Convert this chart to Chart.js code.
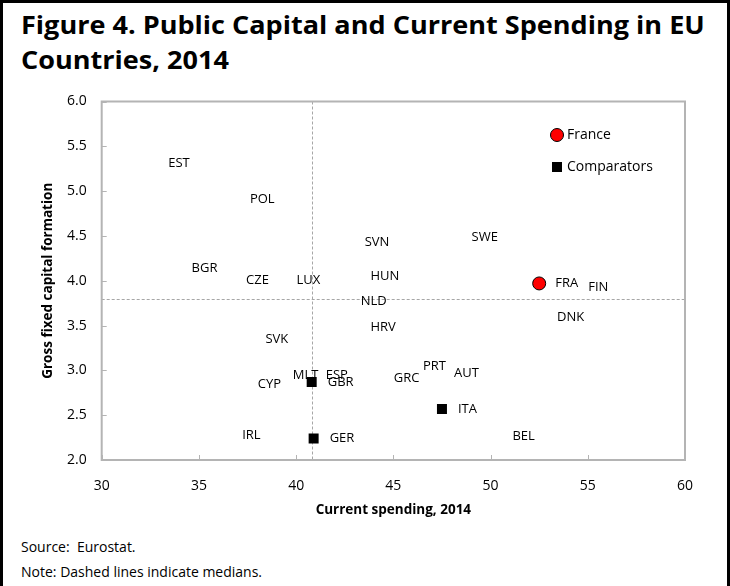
<!DOCTYPE html>
<html>
<head>
<meta charset="utf-8">
<script src="https://cdn.jsdelivr.net/npm/chart.js@4.4.1/dist/chart.umd.min.js"></script>
<style>
	body { margin: 0; background: #fff; font-family: 'Open Sans', sans-serif; }
	#frame { position: absolute; left: 0; top: 0; width: 724px; height: 583px; border: 3px solid #000; border-bottom: none; }
	.title { position: absolute; left: 21px; font-weight: 700; font-size: 25px; line-height: 34px; white-space: nowrap; transform-origin: 0 0; color: #000; }
	#notes { position: absolute; left: 21px; top: 534px; font-size: 14px; line-height: 25px; color: #000; }
	#box { position: absolute; left: 3px; top: 88px; width: 722px; height: 442px; }
</style>
</head>
<body>
<div id="frame"></div>
<div class="title" id="t1" style="top:7px">Figure 4. Public Capital and Current Spending in EU</div>
<div class="title" id="t2" style="top:42px">Countries, 2014</div>
<div id="box"><canvas id="chart"></canvas></div>
<div id="notes">Source:&nbsp; Eurostat.<br>Note: Dashed lines indicate medians.</div>
<script>
// data (x: current spending, y: gross fixed capital formation, % of GDP)
var otherCountries = ['EST', 'POL', 'BGR', 'CZE', 'LUX', 'SVN', 'SWE', 'HUN', 'FIN', 'NLD', 'DNK', 'HRV', 'SVK', 'MLT', 'ESP', 'CYP', 'GRC', 'PRT', 'AUT', 'BEL', 'IRL'];
var otherSpending = [32.6, 36.8, 33.8, 36.6, 39.2, 42.7, 48.2, 43.0, 54.2, 42.5, 52.6, 43.0, 37.6, 39.0, 40.7, 37.2, 44.2, 45.7, 47.3, 50.3, 36.4];
var otherCapital = [5.31, 4.91, 4.14, 4.00, 4.00, 4.43, 4.48, 4.05, 3.93, 3.77, 3.59, 3.48, 3.35, 2.94, 2.95, 2.84, 2.91, 3.05, 2.97, 2.26, 2.28];

var franceCountries = ['FRA'];
var franceSpending = [52.5];
var franceCapital = [3.97];

var comparatorCountries = ['GBR', 'ITA', 'GER'];
var comparatorSpending = [40.8, 47.5, 40.9];
var comparatorCapital = [2.87, 2.57, 2.24];

var medianSpending = 40.8;
var medianCapital = 3.80;

var xTicks = [30, 35, 40, 45, 50, 55, 60];
var yTicks = [2.0, 2.5, 3.0, 3.5, 4.0, 4.5, 5.0, 5.5, 6.0];

// fit title lines to the original width
var t1 = document.getElementById('t1');
var t2 = document.getElementById('t2');
var sx = 684 / t1.offsetWidth;
t1.style.transform = 'scaleX(' + sx + ')';
t2.style.transform = 'scaleX(' + sx + ')';

function toPoints(xs, ys, names) {
	var pts = [];
	for (var i = 0; i < xs.length; i++) {
		pts.push({ x: xs[i], y: ys[i], name: names[i] });
	}
	return pts;
}

var frameAndMedians = {
	id: 'frameAndMedians',
	beforeDatasetsDraw: function(chart) {
		var ctx = chart.ctx;
		var a = chart.chartArea;
		var xs = chart.scales.x;
		var ys = chart.scales.y;
		ctx.save();
		// medians
		ctx.strokeStyle = '#a6a6a6';
		ctx.lineWidth = 1;
		ctx.setLineDash([3, 2]);
		var mx = Math.round(xs.getPixelForValue(medianSpending)) + 0.5;
		var my = Math.round(ys.getPixelForValue(medianCapital)) + 0.5;
		ctx.beginPath();
		ctx.moveTo(mx, a.top);
		ctx.lineTo(mx, a.bottom);
		ctx.moveTo(a.left, my);
		ctx.lineTo(a.right, my);
		ctx.stroke();
		ctx.setLineDash([]);
		// plot area box and inside ticks
		ctx.strokeStyle = '#b4b4b4';
		ctx.lineWidth = 2;
		ctx.strokeRect(a.left, a.top, a.right - a.left, a.bottom - a.top);
		ctx.lineWidth = 1;
		ctx.beginPath();
		xTicks.forEach(function(v) {
			var px = Math.round(xs.getPixelForValue(v)) + 0.5;
			ctx.moveTo(px, a.bottom);
			ctx.lineTo(px, a.bottom - 5);
		});
		yTicks.forEach(function(v) {
			var py = Math.round(ys.getPixelForValue(v)) + 0.5;
			ctx.moveTo(a.left, py);
			ctx.lineTo(a.left + 5, py);
		});
		ctx.stroke();
		ctx.restore();
	}
};

var labelsAndLegend = {
	id: 'labelsAndLegend',
	afterDatasetsDraw: function(chart) {
		var ctx = chart.ctx;
		ctx.save();
		ctx.fillStyle = '#000';
		ctx.font = '13px "Open Sans"';
		ctx.textAlign = 'left';
		ctx.textBaseline = 'middle';
		chart.data.datasets.forEach(function(ds, i) {
			var meta = chart.getDatasetMeta(i);
			meta.data.forEach(function(el, j) {
				ctx.fillText(ds.data[j].name, el.x + 16, el.y);
			});
		});
		// legend inside the plot
		var a = chart.chartArea;
		var lx = a.right - 128;
		ctx.font = '14px "Open Sans"';
		ctx.beginPath();
		ctx.arc(lx, a.top + 33.5, 6.5, 0, Math.PI * 2);
		ctx.fillStyle = '#ff0000';
		ctx.fill();
		ctx.strokeStyle = '#000';
		ctx.lineWidth = 1;
		ctx.stroke();
		ctx.fillStyle = '#000';
		ctx.fillRect(lx - 5, a.top + 60.5, 10, 10);
		ctx.fillText('France', lx + 10, a.top + 33.5);
		ctx.fillText('Comparators', lx + 10, a.top + 65.5);
		ctx.restore();
	}
};

var ctx = document.getElementById('chart');
var myChart = new Chart(ctx, {
	type: 'scatter',
	data: {
		datasets: [
			{
				label: 'Others',
				data: toPoints(otherSpending, otherCapital, otherCountries),
				pointRadius: 0,
				pointHoverRadius: 0
			},
			{
				label: 'France',
				data: toPoints(franceSpending, franceCapital, franceCountries),
				pointStyle: 'circle',
				pointRadius: 6.5,
				backgroundColor: '#ff0000',
				borderColor: '#000',
				borderWidth: 1
			},
			{
				label: 'Comparators',
				data: toPoints(comparatorSpending, comparatorCapital, comparatorCountries),
				pointStyle: 'rect',
				pointRadius: 7.07,
				backgroundColor: '#000',
				borderColor: '#000',
				borderWidth: 0
			}
		]
	},
	options: {
		responsive: true,
		maintainAspectRatio: false,
		animation: false,
		events: [],
		layout: { padding: { top: 13.5, right: 40, left: 0, bottom: 0 } },
		plugins: {
			legend: { display: false },
			tooltip: { enabled: false }
		},
		scales: {
			x: {
				type: 'linear',
				min: 30,
				max: 60,
				afterBuildTicks: function(scale) {
					scale.ticks = xTicks.map(function(v) { return { value: v }; });
				},
				afterFit: function(scale) { scale.height = 70; },
				grid: { display: false, drawTicks: false },
				border: { display: false },
				ticks: {
					padding: 18,
					color: '#000',
					font: { family: 'Open Sans', size: 14 },
					callback: function(v) { return v; }
				},
				title: {
					display: true,
					text: 'Current spending, 2014',
					color: '#000',
					font: { family: 'Open Sans', size: 13.5, weight: 'bold' },
					padding: { top: 0, bottom: 11.9 }
				}
			},
			y: {
				type: 'linear',
				min: 2,
				max: 6,
				afterBuildTicks: function(scale) {
					scale.ticks = yTicks.map(function(v) { return { value: v }; });
				},
				afterFit: function(scale) {
					scale.width = 98.7;
					scale.paddingTop = 5;
					scale.paddingBottom = 5;
				},
				grid: { display: false, drawTicks: false },
				border: { display: false },
				ticks: {
					padding: 15,
					color: '#000',
					font: { family: 'Open Sans', size: 14 },
					callback: function(v) { return v.toFixed(1); }
				},
				title: {
					display: true,
					text: 'Gross fixed capital formation',
					color: '#000',
					font: { family: 'Open Sans', size: 13.5, weight: 'bold' },
					padding: { top: 36.9, bottom: 0 }
				}
			}
		}
	},
	plugins: [frameAndMedians, labelsAndLegend]
});
</script>
</body>
</html>
